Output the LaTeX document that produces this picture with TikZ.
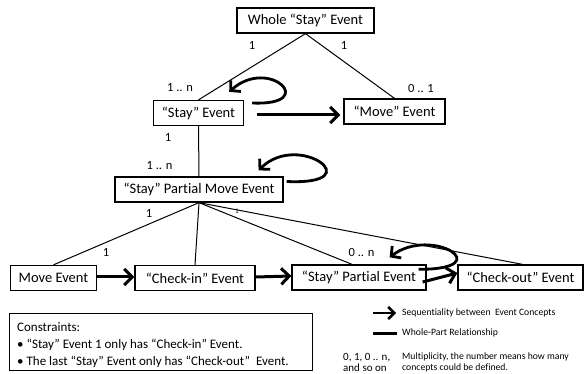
\documentclass[tikz,border=0pt]{standalone}
\usepackage{fontspec}
\setmainfont{Carlito}[Ligatures=NoCommon]
\usetikzlibrary{arrows.meta}

\begin{document}
\begin{tikzpicture}[x=1pt, y=-1pt,
    evt/.style={draw=black, line width=1.3pt, minimum height=25pt, inner xsep=8.5pt, inner ysep=0pt, font=\fontsize{14.5}{16}\selectfont},
    mult/.style={font=\fontsize{12.5}{14}\selectfont, inner sep=0pt},
    part/.style={line width=1pt},
    seq/.style={line width=3pt, -{Straight Barb[length=8pt,width=16pt]}},
    loopy/.style={line width=2.8pt, -{Straight Barb[length=7pt,width=15pt]}},
    lgd/.style={font=\fontsize{9.7}{11}\selectfont, inner sep=0pt, anchor=west, align=left}]
  \useasboundingbox (0, 0) rectangle (584, 374);

  % event concepts
  \node[evt, minimum width=137] (whole) at (305.5, 20.5) {Whole “Stay” Event};
  \node[evt] (stay)  at (198.5, 113) {“Stay” Event};
  \node[evt, minimum width=101] (move)  at (394.5, 111.5) {“Move” Event};
  \node[evt] (spme)  at (199, 189.5) {“Stay” Partial Move Event};
  \node[evt] (me)    at (53.5, 278) {Move Event};
  \node[evt, minimum width=120] (ci)    at (195, 278) {“Check-in” Event};
  \node[evt, minimum width=134] (spe)   at (359, 277.5) {“Stay” Partial Event};
  \node[evt] (co)    at (520.5, 277.5) {“Check-out” Event};

  % whole-part
  \draw[part] (whole.south) -- (stay.north);
  \draw[part] (whole.south) -- (move.north);
  \draw[part] (stay.south) -- (spme.north);
  \draw[part] (spme.south) -- (me.north);
  \draw[part] (spme.south) -- (ci.north);
  \draw[part] (spme.south) -- ([xshift=-7]spe.north);
  \draw[part] (spme.south) -- ([xshift=2]co.north);

  % multiplicity
  \node[mult] (m1)  at (252, 45) {1};
  \node[mult] (m2)  at (344, 45) {1};
  \node[mult] (m3)  at (180, 88) {1 .. n};
  \node[mult] (m4)  at (421, 88) {0 .. 1};
  \node[mult] (m5)  at (168, 137) {1};
  \node[mult] (m6)  at (159.5, 166) {1 .. n};
  \node[mult] (m7)  at (149, 213) {1};
  \node[mult] (m8)  at (106, 252) {1};
  \node[mult, font=\fontsize{7}{8}\selectfont] (m9) at (237, 211) {1};
  \node[mult] (m10) at (361.5, 252) {0 .. n};

  % sequentiality
  \draw[seq] ([shift={(13,2)}]stay.east) -- ([shift={(-3,3.5)}]move.west);
  \draw[seq] ([yshift=1]me.east) -- ([yshift=1]ci.west);
  \draw[seq] ([yshift=1]ci.east) -- ([yshift=1.5]spe.west);
  \draw[seq] ([shift={(-4,4.5)}]spe.east) -- ([yshift=4.5]co.west);
  \draw[loopy] ([shift={(8,-10)}]stay.east) .. controls +(68,3) and +(40,-36) .. ([shift={(-15,-8)}]stay.north east);
  \draw[loopy] ([shift={(3,-8)}]spme.east) .. controls +(86,4) and +(40,-40) .. ([shift={(-25,-6)}]spme.north east);
  \draw[loopy] ([shift={(-8,5)}]spe.north east) .. controls +(82,0) and +(42,-32) .. ([shift={(-37,-7)}]spe.north east);

  % constraints
  \node[draw=black, line width=1.3pt, minimum width=303, minimum height=57, anchor=north west] (cons) at (9, 313) {};
  \node[anchor=north west, align=left, inner sep=0pt, font=\fontsize{13}{17}\selectfont] (constxt) at ([shift={(8,9)}]cons.north west)
    {Constraints:\\• “Stay” Event 1 only has “Check-in” Event.\\• The last “Stay” Event only has “Check-out”\ \ Event.};

  % legend
  \coordinate (sa) at (373, 313);
  \coordinate (sb) at (396, 313);
  \coordinate (pa) at (373, 333);
  \coordinate (pb) at (397, 333);
  \draw[seq, line width=2.5pt, -{Straight Barb[length=6pt,width=12pt]}] (sa) -- (sb);
  \draw[line width=3pt] (pa) -- (pb);
  \node[lgd] (lseq) at (402, 313) {Sequentiality between\ \ Event Concepts};
  \node[lgd] (lpart) at (402, 333) {Whole-Part Relationship};
  \node[lgd, font=\fontsize{11}{11}\selectfont] (lnum) at (343, 362) {0, 1, 0 .. n,\\and so on};
  \node[lgd] (lmult) at (402, 362.5) {Multiplicity, the number means how many\\concepts could be defined.};
\end{tikzpicture}
\end{document}
